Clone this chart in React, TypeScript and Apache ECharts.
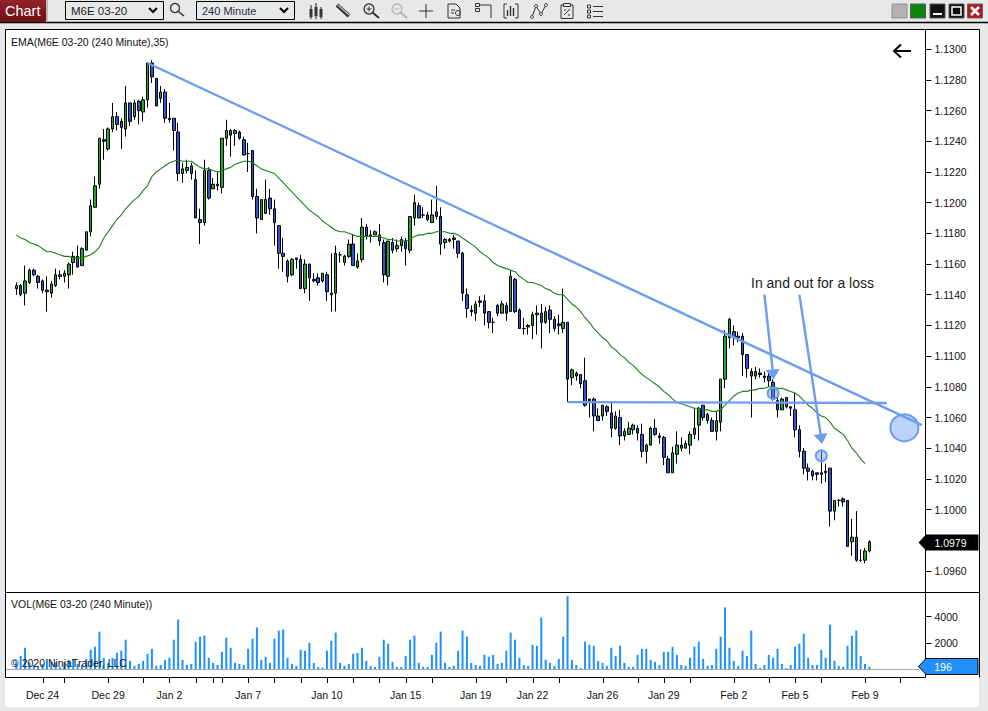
import React, { useEffect, useRef } from "react";
import * as echarts from "echarts";

const FONT = "Arial, 'Liberation Sans', sans-serif";

const opens = [1.1144,1.1146,1.1141,1.1148,1.1156,1.1152,1.1149,1.1143,1.1141,1.1146,
1.1152,1.1152,1.1153,1.1161,1.1165,1.1159,1.1169,1.1181,1.1197,1.1212,
1.1241,1.1235,1.1248,1.1256,1.1253,1.1248,1.1265,1.1256,1.1266,1.1259,
1.1267,1.1291,1.1281,1.1268,1.1272,1.1255,1.1255,1.1246,1.1219,1.1221,
1.1224,1.1215,1.1189,1.1187,1.1221,1.1209,1.1211,1.1210,1.1242,1.1247,
1.1245,1.1246,1.1241,1.1232,1.1234,1.1204,1.1189,1.1193,1.1203,1.1196,
1.1185,1.1167,1.1162,1.1153,1.1163,1.1163,1.1144,1.1160,1.1149,1.1151,
1.1149,1.1153,1.1141,1.1141,1.1166,1.1161,1.1165,1.1173,1.1158,1.1163,
1.1184,1.1178,1.1179,1.1179,1.1174,1.1152,1.1174,1.1170,1.1172,1.1175,
1.1169,1.1190,1.1198,1.1192,1.1192,1.1187,1.1194,1.1191,1.1174,1.1175,
1.1177,1.1175,1.1167,1.1140,1.1130,1.1128,1.1136,1.1136,1.1129,1.1122,
1.1133,1.1128,1.1133,1.1129,1.1150,1.1130,1.1118,1.1119,1.1120,1.1128,
1.1128,1.1122,1.1130,1.1124,1.1121,1.1118,1.1122,1.1086,1.1089,1.1088,
1.1084,1.1071,1.1072,1.1061,1.1061,1.1067,1.1063,1.1053,1.1060,1.1048,
1.1049,1.1052,1.1053,1.1049,1.1038,1.1042,1.1053,1.1048,1.1047,1.1033,
1.1024,1.1036,1.1042,1.1040,1.1042,1.1049,1.1055,1.1068,1.1062,1.1058,
1.1051,1.1057,1.1085,1.1112,1.1116,1.1112,1.1113,1.1101,1.1090,1.1087,
1.1089,1.1087,1.1087,1.1083,1.1071,1.1065,1.1073,1.1067,1.1065,1.1052,
1.1038,1.1027,1.1025,1.1024,1.1024,1.1024,1.1027,1.0999,1.1006,1.1007,
1.1006,1.0979,1.0982,1.0967,1.0967,1.0973];

const closes = [1.1146,1.1140,1.1149,1.1156,1.1153,1.1148,1.1143,1.1142,1.1147,1.1153,
1.1153,1.1154,1.1160,1.1165,1.1158,1.1170,1.1181,1.1198,1.1211,1.1242,
1.1240,1.1248,1.1256,1.1251,1.1249,1.1265,1.1253,1.1265,1.1260,1.1267,
1.1291,1.1282,1.1263,1.1272,1.1255,1.1254,1.1247,1.1219,1.1222,1.1223,
1.1219,1.1190,1.1187,1.1221,1.1203,1.1212,1.1212,1.1242,1.1247,1.1244,
1.1247,1.1242,1.1231,1.1232,1.1204,1.1190,1.1202,1.1202,1.1196,1.1187,
1.1167,1.1165,1.1152,1.1163,1.1164,1.1144,1.1160,1.1151,1.1150,1.1148,
1.1154,1.1142,1.1140,1.1167,1.1166,1.1165,1.1173,1.1159,1.1162,1.1184,
1.1178,1.1179,1.1181,1.1175,1.1153,1.1175,1.1169,1.1172,1.1176,1.1170,
1.1191,1.1200,1.1190,1.1192,1.1189,1.1192,1.1191,1.1173,1.1176,1.1176,
1.1176,1.1167,1.1141,1.1131,1.1129,1.1134,1.1135,1.1128,1.1122,1.1122,
1.1128,1.1134,1.1128,1.1152,1.1129,1.1118,1.1118,1.1120,1.1127,1.1127,
1.1122,1.1129,1.1124,1.1118,1.1120,1.1122,1.1085,1.1091,1.1087,1.1082,
1.1068,1.1072,1.1061,1.1058,1.1068,1.1064,1.1053,1.1061,1.1048,1.1051,
1.1053,1.1055,1.1050,1.1038,1.1042,1.1053,1.1049,1.1047,1.1034,1.1024,
1.1037,1.1042,1.1040,1.1043,1.1049,1.1053,1.1066,1.1060,1.1058,1.1051,
1.1058,1.1085,1.1113,1.1124,1.1112,1.1113,1.1101,1.1092,1.1087,1.1090,
1.1088,1.1086,1.1084,1.1072,1.1065,1.1072,1.1067,1.1066,1.1052,1.1038,
1.1027,1.1025,1.1022,1.1023,1.1023,1.1025,1.0999,1.1006,1.1006,1.1005,
1.0976,1.0982,1.0967,1.0967,1.0973,1.0979];

const lows = [1.1140,1.1139,1.1133,1.1147,1.1152,1.1144,1.1141,1.1129,1.1138,1.1145,
1.1150,1.1148,1.1144,1.1153,1.1158,1.1159,1.1169,1.1178,1.1197,1.1209,
1.1228,1.1234,1.1246,1.1247,1.1235,1.1243,1.1250,1.1254,1.1251,1.1253,
1.1262,1.1278,1.1263,1.1265,1.1252,1.1252,1.1234,1.1214,1.1213,1.1219,
1.1215,1.1190,1.1173,1.1185,1.1202,1.1209,1.1208,1.1206,1.1237,1.1230,
1.1237,1.1241,1.1231,1.1220,1.1202,1.1180,1.1189,1.1193,1.1192,1.1172,
1.1157,1.1155,1.1148,1.1152,1.1157,1.1144,1.1141,1.1136,1.1148,1.1146,
1.1148,1.1136,1.1129,1.1129,1.1161,1.1159,1.1164,1.1159,1.1157,1.1161,
1.1176,1.1174,1.1179,1.1172,1.1148,1.1146,1.1167,1.1168,1.1168,1.1159,
1.1167,1.1185,1.1190,1.1190,1.1188,1.1187,1.1189,1.1166,1.1170,1.1174,
1.1170,1.1164,1.1136,1.1125,1.1126,1.1123,1.1132,1.1120,1.1118,1.1115,
1.1126,1.1128,1.1123,1.1129,1.1128,1.1118,1.1114,1.1114,1.1111,1.1114,
1.1105,1.1121,1.1115,1.1116,1.1114,1.1115,1.1070,1.1081,1.1084,1.1079,
1.1067,1.1060,1.1051,1.1058,1.1058,1.1061,1.1047,1.1052,1.1042,1.1045,
1.1049,1.1049,1.1045,1.1034,1.1030,1.1042,1.1048,1.1043,1.1029,1.1024,
1.1024,1.1030,1.1038,1.1040,1.1036,1.1046,1.1045,1.1058,1.1056,1.1051,
1.1045,1.1051,1.1079,1.1105,1.1107,1.1109,1.1087,1.1086,1.1060,1.1085,
1.1086,1.1083,1.1080,1.1071,1.1060,1.1065,1.1066,1.1061,1.1047,1.1034,
1.1023,1.1019,1.1019,1.1019,1.1017,1.1018,1.0989,1.0993,1.1002,1.1002,
1.0976,1.0970,1.0966,1.0966,1.0965,1.0972];

const highs = [1.1148,1.1147,1.1159,1.1157,1.1157,1.1153,1.1150,1.1152,1.1149,1.1157,
1.1156,1.1156,1.1161,1.1168,1.1172,1.1171,1.1181,1.1202,1.1217,1.1242,
1.1248,1.1249,1.1265,1.1259,1.1255,1.1276,1.1265,1.1267,1.1267,1.1269,
1.1291,1.1293,1.1281,1.1276,1.1274,1.1265,1.1255,1.1252,1.1226,1.1228,
1.1226,1.1221,1.1196,1.1228,1.1223,1.1216,1.1220,1.1242,1.1254,1.1248,
1.1248,1.1247,1.1243,1.1239,1.1234,1.1209,1.1202,1.1215,1.1209,1.1202,
1.1185,1.1177,1.1163,1.1164,1.1164,1.1166,1.1163,1.1160,1.1154,1.1154,
1.1154,1.1155,1.1167,1.1172,1.1168,1.1166,1.1176,1.1179,1.1167,1.1190,
1.1186,1.1182,1.1182,1.1186,1.1176,1.1175,1.1177,1.1176,1.1178,1.1177,
1.1191,1.1205,1.1200,1.1197,1.1194,1.1202,1.1211,1.1197,1.1177,1.1177,
1.1179,1.1175,1.1168,1.1144,1.1133,1.1136,1.1139,1.1140,1.1129,1.1125,
1.1134,1.1136,1.1135,1.1156,1.1151,1.1131,1.1125,1.1121,1.1129,1.1133,
1.1134,1.1132,1.1133,1.1126,1.1127,1.1144,1.1122,1.1092,1.1090,1.1088,
1.1099,1.1072,1.1073,1.1066,1.1068,1.1068,1.1070,1.1064,1.1065,1.1053,
1.1057,1.1056,1.1055,1.1056,1.1043,1.1054,1.1059,1.1050,1.1048,1.1035,
1.1041,1.1051,1.1047,1.1045,1.1051,1.1066,1.1067,1.1068,1.1063,1.1060,
1.1064,1.1085,1.1117,1.1125,1.1120,1.1116,1.1115,1.1101,1.1092,1.1093,
1.1092,1.1090,1.1091,1.1085,1.1073,1.1073,1.1073,1.1067,1.1076,1.1055,
1.1040,1.1030,1.1026,1.1024,1.1038,1.1030,1.1027,1.1006,1.1007,1.1008,
1.1006,1.0994,1.0999,1.0974,1.0975,1.0980];

const ema35 = [1.1179,1.1177,1.1176,1.1174,1.1173,1.1172,1.1170,1.1168,1.1168,1.1167,
1.1166,1.1165,1.1165,1.1164,1.1164,1.1164,1.1165,1.1166,1.1168,1.1171,
1.1177,1.1181,1.1185,1.1189,1.1192,1.1196,1.1199,1.1202,1.1204,1.1208,
1.1211,1.1217,1.1220,1.1222,1.1224,1.1226,1.1227,1.1228,1.1227,1.1227,
1.1227,1.1225,1.1223,1.1222,1.1222,1.1221,1.1220,1.1221,1.1222,1.1223,
1.1225,1.1226,1.1227,1.1227,1.1226,1.1224,1.1222,1.1221,1.1220,1.1219,
1.1216,1.1213,1.1210,1.1207,1.1204,1.1201,1.1198,1.1195,1.1193,1.1191,
1.1188,1.1186,1.1184,1.1182,1.1181,1.1181,1.1180,1.1179,1.1178,1.1178,
1.1178,1.1178,1.1178,1.1178,1.1177,1.1176,1.1176,1.1175,1.1175,1.1175,
1.1176,1.1178,1.1179,1.1179,1.1180,1.1180,1.1181,1.1181,1.1181,1.1180,
1.1180,1.1179,1.1177,1.1175,1.1173,1.1171,1.1168,1.1166,1.1164,1.1161,
1.1159,1.1158,1.1157,1.1156,1.1155,1.1152,1.1150,1.1148,1.1148,1.1147,
1.1146,1.1144,1.1143,1.1141,1.1140,1.1140,1.1137,1.1134,1.1132,1.1129,
1.1125,1.1122,1.1118,1.1115,1.1112,1.1110,1.1106,1.1104,1.1101,1.1099,
1.1096,1.1094,1.1091,1.1088,1.1086,1.1084,1.1082,1.1080,1.1077,1.1075,
1.1072,1.1070,1.1069,1.1068,1.1067,1.1066,1.1066,1.1065,1.1065,1.1064,
1.1064,1.1065,1.1068,1.1071,1.1074,1.1076,1.1077,1.1077,1.1078,1.1078,
1.1079,1.1079,1.1080,1.1080,1.1079,1.1079,1.1078,1.1077,1.1076,1.1074,
1.1071,1.1068,1.1066,1.1063,1.1061,1.1060,1.1057,1.1053,1.1051,1.1049,
1.1045,1.1040,1.1037,1.1033,1.1030,null];

const volumes = [590,1020,1640,510,330,260,410,790,590,510,
150,510,720,790,410,330,790,1480,1720,2870,
870,460,870,1250,1410,2250,640,260,410,640,
1180,1560,260,330,720,870,2250,3790,720,330,
410,2100,2480,2560,870,490,330,1330,2410,1640,
490,410,330,1560,2330,3170,720,950,490,2330,
2940,3020,870,410,260,1480,1410,2020,490,180,
130,1410,2180,2790,490,260,410,1180,1250,1640,
640,260,180,950,2250,1950,560,180,180,1020,
2250,2560,490,180,180,1100,2020,2870,490,180,
260,1410,2940,2480,490,330,260,1100,950,1100,
410,490,1410,2790,2250,870,330,260,1870,1790,
3940,720,490,260,790,2480,5560,720,330,100,
2100,1870,1790,640,490,260,1640,1020,1790,490,
180,180,1100,1560,1560,720,560,330,1330,1330,
1720,1100,330,260,870,1720,2100,790,260,330,
1560,2480,4710,1640,640,260,1410,1020,2940,410,
100,330,1100,870,1560,410,100,330,1720,1950,
2710,870,330,330,1480,870,3400,640,260,180,
1790,2560,2940,1020,410,196];

const priceTicks = [1.096,1.1,1.102,1.104,1.106,1.108,1.11,1.112,1.114,1.116,1.118,1.12,1.122,1.124,1.126,1.128,1.13];
const volumeTicks = [2000, 4000];
const timeTickBars = [6,11,21,29,35,41,45,47,53,59,65,71,77,83,89,95,105,112,118,124,134,142,148,154,164,172,178,184,194,202];
const dateLabelBars = [6,21,35,53,71,89,105,118,134,148,164,178,194];
const dateLabels = ["Dec 24","Dec 29","Jan 2","Jan 7","Jan 10","Jan 15","Jan 19","Jan 22","Jan 26","Jan 29","Feb 2","Feb 5","Feb 9"];

// hand-drawn objects, anchored to [bar, price] like the platform's drawing tools
const trendLine = [[30, 1.1291], [207, 1.1055]];
const supportLine = [[126, 1.107], [199, 1.10695]];
const arrowOne = [[171, 1.1140], [173, 1.1088]];
const arrowTwo = [[179, 1.1140], [184, 1.1046]];
const entryCircles = [[173, 1.10757, 11], [184, 1.1035, 11]];
const targetCircle = [203, 1.10533];

const BLUE = "#6d9cf0";
const BAR_COUNT = 208;
const categories = Array.from({ length: BAR_COUNT }, (_, i) => String(i));
const candleData = opens.map((o, i) => [o, closes[i], lows[i], highs[i]]);

const L = (x1, y1, x2, y2, stroke = "#000", lineWidth = 1, z = 50) => ({
  type: "line", silent: true, z, shape: { x1, y1, x2, y2 }, style: { stroke, lineWidth },
});
const R = (x, y, width, height, fill, stroke = "none", lineWidth = 1, z = 50) => ({
  type: "rect", silent: true, z, shape: { x, y, width, height }, style: { fill, stroke, lineWidth },
});
const C = (cx, cy, r, fill, stroke = "#222", lineWidth = 1.3, z = 50) => ({
  type: "circle", silent: true, z, shape: { cx, cy, r }, style: { fill, stroke, lineWidth },
});
const P = (points, stroke = "#222", lineWidth = 1.3, z = 50) => ({
  type: "polyline", silent: true, z, shape: { points }, style: { stroke, lineWidth, fill: "none" },
});
const G = (points, fill, stroke = "none", z = 60) => ({
  type: "polygon", silent: true, z, shape: { points }, style: { fill, stroke, lineWidth: 1 },
});
const T = (x, y, text, font, fill = "#000", textAlign = "left", z = 100) => ({
  type: "text", silent: true, z,
  style: { x, y, text, font: `${font} ${FONT}`, fill, textAlign, textVerticalAlign: "middle" },
});

const chrome = [
  // panes
  R(5, 29, 974, 678, "#fff", "none", 0, -10),
  L(0, 22.5, 988, 22.5, "#000", 1.5),
  L(5.5, 29.5, 979.5, 29.5),
  L(5.5, 29.5, 5.5, 677.5),
  L(979.5, 29.5, 979.5, 677.5),
  L(5.5, 592.5, 979.5, 592.5),
  L(5.5, 677.5, 925.5, 677.5),
  L(6, 669.5, 919, 669.5, "#a8a8a8", 1.2, 5),
  // chart tab
  {
    type: "rect", silent: true, z: 50, shape: { x: 0, y: 0, width: 46, height: 22 },
    style: { fill: { type: "linear", x: 0, y: 0, x2: 0, y2: 1, colorStops: [{ offset: 0, color: "#96222b" }, { offset: 1, color: "#6d0f14" }] } },
  },
  R(46, 0, 2, 22, "#b9b9b9"),
  T(5, 11, "Chart", "14.5px", "#fff"),
  // instrument and period selectors
  R(65.5, 1.5, 98, 18, "#e7e8e9", "#000"),
  T(71, 11, "M6E 03-20", "11.5px", "#222"),
  P([[149, 8], [153, 12], [157, 8]], "#000", 2),
  R(196.5, 1.5, 98, 18, "#e7e8e9", "#000"),
  T(202, 11, "240 Minute", "11px", "#26303c"),
  P([[280, 8], [284, 12], [288, 8]], "#000", 2),
  // lens
  C(175, 8, 4.5, "none", "#333"), L(178.5, 11.5, 184, 16, "#333", 1.6),
  // candle icon
  L(311, 5, 311, 19, "#222"), R(309.5, 9, 3, 8, "#333"),
  L(316, 3, 316, 19, "#222"), R(314.5, 7, 3, 9, "#333"),
  L(321, 7, 321, 19, "#222"), R(319.5, 9, 3, 8, "#333"),
  // pencil
  L(337, 5, 349, 16, "#333", 4), L(338, 5, 349, 15, "#bbb", 1.4),
  // zoom in, zoom out
  C(369, 9, 5, "none", "#333"), L(372.5, 12.5, 379, 18, "#333", 2), L(366.5, 9, 371.5, 9, "#333"), L(369, 6.5, 369, 11.5, "#333"),
  C(397, 9, 5, "none", "#b4b4b4"), L(400.5, 12.5, 407, 18, "#b4b4b4", 2), L(394.5, 9, 399.5, 9, "#b4b4b4"),
  // cross
  L(426, 4, 426, 18, "#333"), L(419, 11, 433, 11, "#333"),
  // document with lens
  P([[448, 18], [448, 4], [456, 4], [460, 8], [460, 18], [448, 18]], "#333", 1), C(458, 13, 2.5, "none", "#333", 1),
  L(451, 10, 455, 10, "#333"), L(451, 13, 454, 13, "#333"),
  // strategy box
  R(475.5, 3.5, 4, 3, "none", "#333"), R(475.5, 8.5, 4, 3, "none", "#333"),
  P([[480, 5], [491, 5], [491, 18]], "#333", 1),
  // bar analyser
  P([[507, 4], [504, 4], [504, 18], [507, 18]], "#333", 1), P([[515, 4], [518, 4], [518, 18], [515, 18]], "#333", 1),
  L(507.5, 10, 507.5, 16, "#333", 1.4), L(510.5, 6, 510.5, 16, "#333", 1.4), L(513.5, 8, 513.5, 16, "#333", 1.4),
  // line with nodes
  P([[532, 17], [536, 6], [541, 14], [546, 5]], "#333", 1),
  C(532, 17, 1.5, "#e7e8e9", "#333", 1), C(536, 6, 1.5, "#e7e8e9", "#333", 1), C(541, 14, 1.5, "#e7e8e9", "#333", 1), C(546, 5, 1.5, "#e7e8e9", "#333", 1),
  // data box
  R(561, 5, 12, 13.5, "none", "#333"), R(563.5, 3.5, 7, 3, "#e7e8e9", "#333"),
  L(564, 15, 570, 9, "#333"), L(564, 10, 566, 10, "#333"), L(568, 15, 570, 15, "#333"),
  // list
  R(587.5, 5, 3, 3, "none", "#333"), R(587.5, 10, 3, 3, "none", "#333"), R(587.5, 15, 3, 3, "none", "#333"),
  L(593, 6.5, 603, 6.5, "#333"), L(593, 11.5, 603, 11.5, "#333"), L(593, 16.5, 603, 16.5, "#333"),
  // window buttons
  R(892, 4, 15, 14, "#b3b1b1", "#8f8f8f"),
  R(910.5, 4, 15, 14, "#0a860f", "#5a5a5a"),
  R(930, 4, 15, 14, "#111", "#555"), R(933, 13, 9, 2, "#fff"),
  R(949, 4, 15, 14, "#111", "#555"), R(952, 7, 9, 8, "none", "#fff", 1.5),
  R(967.5, 4, 15, 14, "#b3161c", "#666"), L(971, 7, 979, 15, "#fff", 2.6), L(979, 7, 971, 15, "#fff", 2.6),
  // pane titles
  T(11, 41.5, "EMA(M6E 03-20 (240 Minute),35)", "10.5px", "#111"),
  T(11, 604, "VOL(M6E 03-20 (240 Minute))", "10.5px", "#111"),
  T(11, 663, "© 2020 NinjaTrader, LLC", "10.5px", "#111"),
  // drawing-tool text and back arrow
  T(751, 283, "In and out for a loss", "14px", "#1a1a1a"),
  L(894, 51, 911, 51, "#000", 2),
  P([[901, 44.5], [894, 51], [901, 57.5]], "#000", 2),
  // last value tags
  G([[918.5, 542.5], [926, 534.5], [978.5, 534.5], [978.5, 550.5], [926, 550.5]], "#000"),
  T(950.5, 543, "1.0979", "10.5px", "#fff", "center"),
  G([[918.5, 666.5], [926, 658.5], [978, 658.5], [978, 674.5], [926, 674.5]], "#2090ff", "#000"),
  T(943, 667, "196", "10.5px", "#fff", "center"),
];

const axisCommon = {
  axisLine: { show: true, lineStyle: { color: "#000", width: 1 } },
  axisTick: { show: true, length: 6, lineStyle: { color: "#000", width: 1 } },
  splitLine: { show: false },
};

export default function App() {
  const ref = useRef<HTMLDivElement>(null);
  useEffect(() => {
    const chart = echarts.init(ref.current, null, { renderer: "svg" });
    chart.setOption({
      animation: false,
      backgroundColor: "#e7e8e9",
      graphic: { elements: chrome },
      grid: [
        { left: 14.1, width: 910, top: 30, height: 562 },
        { left: 14.1, width: 910, top: 593, height: 84 },
      ],
      xAxis: [
        { type: "category", gridIndex: 0, data: categories, show: false },
        {
          type: "category", gridIndex: 1, data: categories,
          axisLine: { show: true, onZero: false, lineStyle: { color: "#000", width: 1 } },
          axisTick: { show: false },
          axisLabel: {
            show: true, customValues: dateLabelBars, margin: 12, color: "#111", fontFamily: FONT, fontSize: 10.5,
            formatter: (v) => {
              const k = dateLabelBars.indexOf(Number(v));
              return k >= 0 ? dateLabels[k] : "";
            },
          },
        },
      ],
      yAxis: [
        {
          type: "value", gridIndex: 0, position: "right", offset: 1.4, min: 1.09463, max: 1.13125, scale: true,
          ...axisCommon,
          axisTick: { ...axisCommon.axisTick, customValues: priceTicks },
          axisLabel: { customValues: priceTicks, margin: 9, color: "#111", fontFamily: FONT, fontSize: 10.5, formatter: (v) => Number(v).toFixed(4) },
        },
        {
          type: "value", gridIndex: 1, position: "right", offset: 1.4, min: -585, max: 5802,
          ...axisCommon,
          axisTick: { ...axisCommon.axisTick, customValues: volumeTicks },
          axisLabel: { customValues: volumeTicks, margin: 9, color: "#111", fontFamily: FONT, fontSize: 10.5, formatter: (v) => String(v) },
        },
      ],
      series: [
        {
          type: "candlestick", xAxisIndex: 0, yAxisIndex: 0, data: candleData, barWidth: 3,
          itemStyle: { color: "#1fa82e", color0: "#2c55d6", borderColor: "#000", borderColor0: "#000", borderColorDoji: "#000", borderWidth: 1 },
        },
        {
          type: "line", xAxisIndex: 0, yAxisIndex: 0, data: ema35, showSymbol: false, silent: true,
          lineStyle: { color: "#1f7f1f", width: 1.1 },
          markLine: {
            silent: true, animation: false, symbol: "none", label: { show: false },
            lineStyle: { color: BLUE, width: 2.4, type: "solid" },
            emphasis: { disabled: true },
            data: [
              [{ coord: trendLine[0], symbol: "none" }, { coord: trendLine[1], symbol: "none" }],
              [{ coord: supportLine[0], symbol: "none" }, { coord: supportLine[1], symbol: "none" }],
              [{ coord: arrowOne[0], symbol: "none" }, { coord: arrowOne[1], symbol: "triangle", symbolSize: [14, 10] }],
              [{ coord: arrowTwo[0], symbol: "none" }, { coord: arrowTwo[1], symbol: "triangle", symbolSize: [14, 10] }],
            ],
          },
          markPoint: {
            silent: true, animation: false, symbol: "circle", label: { show: false },
            itemStyle: { color: "rgba(109,156,240,0.45)", borderColor: BLUE, borderWidth: 2 },
            data: [
              { coord: [entryCircles[0][0], entryCircles[0][1]], symbolSize: entryCircles[0][2] },
              { coord: [entryCircles[1][0], entryCircles[1][1]], symbolSize: entryCircles[1][2] },
              { coord: targetCircle, symbolSize: [28, 27] },
            ],
          },
        },
        {
          type: "bar", xAxisIndex: 1, yAxisIndex: 1, data: volumes, barWidth: 2,
          itemStyle: { color: "#1e90ff" }, silent: true,
        },
      ],
    });
    // time-axis ticks, placed through the axis scale
    const tickLines = timeTickBars.map((bar) => {
      const x = Math.round(chart.convertToPixel({ xAxisIndex: 1 }, bar)) + 0.5;
      return L(x, 677.5, x, 683, "#000", 1);
    });
    chart.setOption({ graphic: { elements: [...chrome, ...tickLines] } });
    return () => chart.dispose();
  }, []);
  return <div ref={ref} style={{ position: "fixed", left: 0, top: 0, width: 988, height: 711 }} />;
}
